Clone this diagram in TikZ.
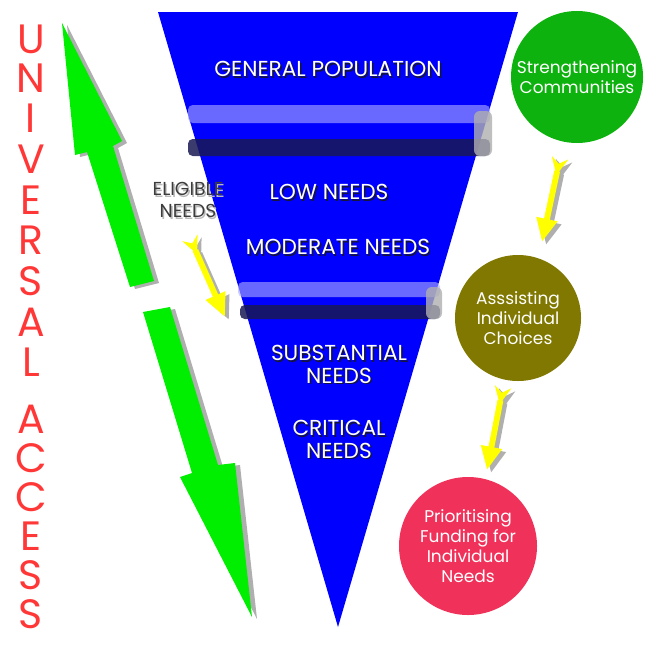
\documentclass[tikz,border=0pt]{standalone}
\usepackage{fontspec}
\setmainfont{Poppins}
\usetikzlibrary{calc}
\usetikzlibrary{positioning}
\usetikzlibrary{arrows.meta}

\definecolor{funnelblue}{RGB}{0,0,255}
\definecolor{arrowgreen}{RGB}{0,238,0}
\definecolor{dartyellow}{RGB}{255,255,0}
\definecolor{shadegray}{RGB}{175,175,175}
\definecolor{accessred}{RGB}{255,55,55}
\definecolor{commgreen}{RGB}{14,178,14}
\definecolor{choiceolive}{RGB}{128,120,0}
\definecolor{fundpink}{RGB}{240,50,90}
\definecolor{textshadow}{RGB}{20,20,60}
\definecolor{eligtext}{RGB}{60,60,60}
\definecolor{eligshadow}{RGB}{185,185,185}

% white text with a dark drop shadow
\newcommand{\embossed}[2][textshadow]{\leavevmode\rlap{\kern1.2pt\raisebox{-1.2pt}{\textcolor{#1}{#2}}}#2}

\tikzset{
	>=Stealth,
	level/.style={
		text=white,
		font=\fontsize{18.5}{19}\selectfont,
		align=center,
		inner sep=0pt},
	eligible/.style={
		level,
		text=eligtext,
		font=\fontsize{16}{19}\selectfont},
	letter/.style={
		text=accessred,
		font=\fontsize{35}{35}\selectfont,
		inner sep=0pt},
	bandlite/.style={fill={rgb,255:red,175;green,175;blue,255}, opacity=.6, rounded corners=4pt},
	banddark/.style={fill={rgb,255:red,25;green,25;blue,85}, opacity=.85, rounded corners=4pt},
	bandcap/.style={fill=shadegray, opacity=.8, rounded corners=5pt},
	bigarrow/.style={fill=arrowgreen},
	bigshade/.style={fill=shadegray},
	dart/.style={
		draw=dartyellow,
		line width=5pt,
		{Stealth[reversed,length=15pt,width=14pt,inset=5pt]}-{Triangle[length=20pt,width=17pt]}},
	dartshade/.style={dart, draw=shadegray, transform canvas={shift={(4,3)}}},
	stage/.style={
		circle,
		text=white,
		font=\fontsize{14.5}{17}\selectfont,
		align=center,
		inner sep=0pt},
}

\begin{document}
\begin{tikzpicture}[x=0.03cm,y=-0.03cm]
	\useasboundingbox (0,0) rectangle (656,645);

	% funnel and the two lenses
	\fill[funnelblue] (158,12) -- (518,12) -- (338,627) -- cycle;
	\fill[bandlite] (188,105) rectangle (490,123);
	\fill[banddark] (188,139) rectangle (490,156);
	\fill[bandcap] (474,111) rectangle (492,156);
	\fill[bandlite] (238,282) rectangle (440,297);
	\fill[banddark] (240,305) rectangle (440,319);
	\fill[bandcap] (426,287) rectangle (442,319);

	\node[level] (gp)    at (328,70)  {\embossed{GENERAL POPULATION}};
	\node[level] (low)   at (329,193) {\embossed{LOW NEEDS}};
	\node[level] (mod)   at (338,248) {\embossed{MODERATE NEEDS}};
	\node[level] (subst) at (339,365) {\embossed{SUBSTANTIAL}\\\embossed{NEEDS}};
	\node[level] (crit)  at (339,440) {\embossed{CRITICAL}\\\embossed{NEEDS}};
	\node[eligible] (elig) at (188,201) {\embossed[eligshadow]{ELIGIBLE}\\\embossed[eligshadow]{NEEDS}};

	% universal access, one letter under the other
	\foreach \ch/\yy [count=\i] in {U/39,N/78,I/118,V/159,E/200,R/240,S/281,A/322,L/362,
		A/419,C/458,C/497,E/536,S/575,S/614}
		\node[letter] (ua\i) at (31,\yy) {\ch};

	% the split green arrow
	\fill[bigshade, shift={(5,2)}] (62,23) -- (122,141) -- (113,146) -- (154,281) -- (130,287) -- (87,152) -- (75,155) -- cycle;
	\fill[bigarrow] (62,23) -- (122,141) -- (113,146) -- (154,281) -- (130,287) -- (87,152) -- (75,155) -- cycle;
	\fill[bigshade, shift={(5,2)}] (143,312) -- (170,307) -- (218,465) -- (235,463) -- (252,617) -- (180,477) -- (192,473) -- cycle;
	\fill[bigarrow] (143,312) -- (170,307) -- (218,465) -- (235,463) -- (252,617) -- (180,477) -- (192,473) -- cycle;

	% stages
	\node[stage, fill=commgreen, minimum size=3.96cm] (strength) at (577,77) {Strengthening\\Communities};
	\node[stage, fill=choiceolive, minimum size=3.78cm] (assist) at (518,318) {Asssisting\\Individual\\Choices};
	\node[stage, fill=fundpink, minimum size=4.14cm] (prior) at (468,546) {Prioritising\\Funding for\\Individual\\Needs};

	\coordinate (eligtail) at (190,238);
	\coordinate (eligtip) at (225,317);
	\coordinate (commtail) at (560,158);
	\coordinate (commtip) at (542,242);
	\coordinate (choicetail) at (503,387);
	\coordinate (choicetip) at (487,470);

	\draw[dartshade] (eligtail) -- (eligtip);
	\draw[dart] (eligtail) -- (eligtip);
	\draw[dartshade] (commtail) -- (commtip);
	\draw[dart] (commtail) -- (commtip);
	\draw[dartshade] (choicetail) -- (choicetip);
	\draw[dart] (choicetail) -- (choicetip);
\end{tikzpicture}
\end{document}
